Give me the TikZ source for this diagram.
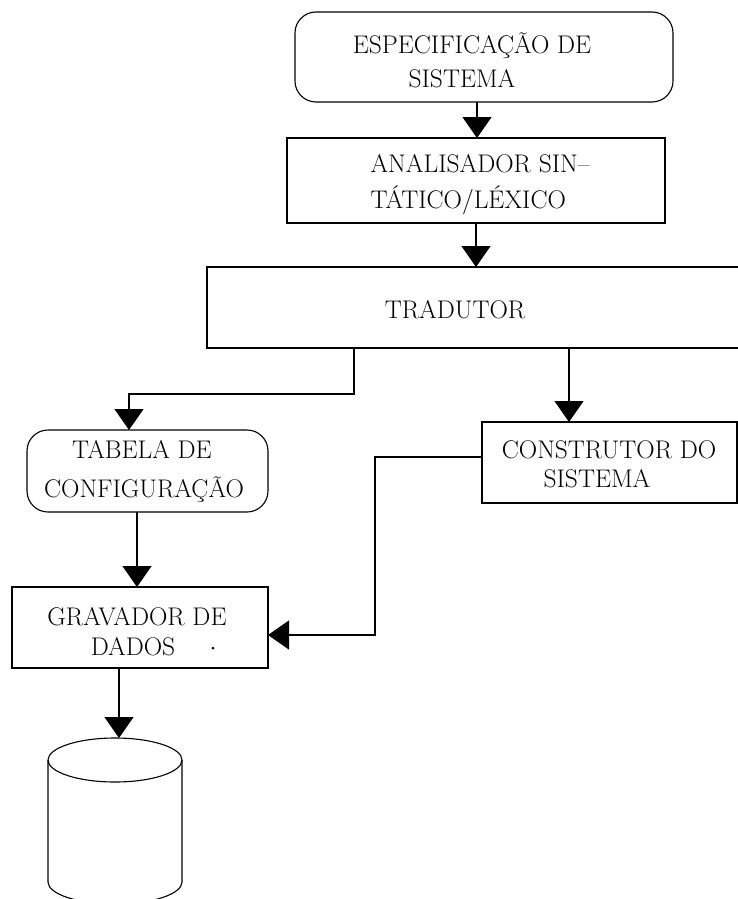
\documentclass[tikz,border=0pt]{standalone}
\usetikzlibrary{arrows.meta}
\begin{document}
\begin{tikzpicture}[x=1pt,y=-1pt,
  line width=1.1pt,
  box/.style={draw, inner sep=0pt, outer sep=0pt},
  roundbox/.style={box, rounded corners=21pt},
  lbl/.style={font=\fontsize{25.5}{30}\selectfont, inner sep=0pt, anchor=base},
  arr/.style={-{Triangle[width=29pt,length=21pt]}}]
\useasboundingbox (0,0) rectangle (738,899);
\clip (0,0) rectangle (738,899);

% boxes
\node[roundbox, minimum width=378pt, minimum height=90pt] (espec) at (484,57) {};
\node[box, minimum width=378pt, minimum height=85pt] (ana) at (476,180.5) {};
\node[box, minimum width=563pt, minimum height=81pt] (trad) at (488.5,307.5) {};
\node[roundbox, minimum width=241pt, minimum height=82pt] (tab) at (147.5,471) {};
\node[box, minimum width=255pt, minimum height=81pt] (cons) at (609.5,462.5) {};
\node[box, minimum width=256pt, minimum height=81pt] (grav) at (140,627.5) {};

% labels
\node[lbl] (espec-a) at (472,53) {ESPECIFICAÇÃO DE};
\node[lbl] (espec-b) at (462,88) {SISTEMA};
\node[lbl, anchor=base west] (ana-a) at (370,172) {ANALISADOR SIN--};
\node[lbl, anchor=base west] (ana-b) at (370,208) {TÁTICO/LÉXICO};
\node[lbl] (trad-a) at (455,318) {TRADUTOR};
\node[lbl] (tab-a) at (142,458) {TABELA DE};
\node[lbl] (tab-b) at (144,497) {CONFIGURAÇÃO};
\node[lbl] (cons-a) at (609,458) {CONSTRUTOR DO};
\node[lbl] (cons-b) at (597,487) {SISTEMA};
\node[lbl] (grav-a) at (137,625) {GRAVADOR DE};
\node[lbl] (grav-b) at (133,655) {DADOS};
\fill (213,648) circle (1.5pt);

% storage cylinder
\draw (115,760) ellipse [x radius=67pt, y radius=22pt];
\draw (48,760) -- (48,882) arc[start angle=180, end angle=360, x radius=67pt, y radius=22pt] -- (182,760);
\coordinate (db) at (119,738);

% routing points
\coordinate (x1) at (477,0);
\coordinate (x2) at (476,0);
\coordinate (k1) at (354,394);
\coordinate (k2) at (129,394);
\coordinate (x3) at (569,0);
\coordinate (k3) at (375,457);
\coordinate (k4) at (375,635);
\coordinate (x4) at (137,0);
\coordinate (x5) at (119,0);

% connectors
\draw[arr] (espec.south -| x1) -- (ana.north -| x1);
\draw[arr] (ana.south -| x2) -- (trad.north -| x2);
\draw[arr] (trad.south -| k1) -- (k1) -- (k2) -- (tab.north -| k2);
\draw[arr] (trad.south -| x3) -- (cons.north -| x3);
\draw[arr] (cons.west |- k3) -- (k3) -- (k4) -- (grav.east |- k4);
\draw[arr] (tab.south -| x4) -- (grav.north -| x4);
\draw[arr] (grav.south -| x5) -- (db);
\end{tikzpicture}
\end{document}
